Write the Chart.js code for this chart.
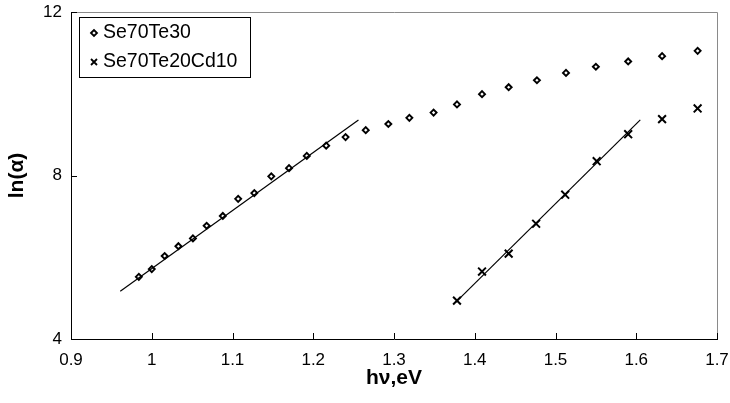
<!DOCTYPE html>
<html>
<head>
<meta charset="utf-8">
<script src="https://cdn.jsdelivr.net/npm/chart.js@4/dist/chart.umd.min.js"></script>
<style>
  html, body { margin: 0; padding: 0; background: #fff; }
  canvas { display: block; }
</style>
</head>
<body>
<canvas id="chart" width="730" height="403"></canvas>
<script>
// photon energy (eV) and ln(alpha) for each film
const hvSeTe = [0.984, 1.000, 1.016, 1.033, 1.051, 1.068, 1.088, 1.107, 1.127, 1.148, 1.170, 1.192, 1.216, 1.240,
                1.265, 1.293, 1.319, 1.349, 1.378, 1.409, 1.442, 1.477, 1.513, 1.550, 1.590, 1.632, 1.676];
const lnSeTe = [5.52, 5.71, 6.03, 6.27, 6.46, 6.77, 7.01, 7.43, 7.57, 7.98, 8.18, 8.48, 8.73, 8.94,
                9.11, 9.26, 9.41, 9.54, 9.74, 9.99, 10.16, 10.33, 10.51, 10.66, 10.79, 10.92, 11.05];
const hvSeTeCd = [1.378, 1.409, 1.442, 1.476, 1.512, 1.551, 1.590, 1.632, 1.676];
const lnSeTeCd = [4.94, 5.65, 6.09, 6.82, 7.53, 8.35, 9.01, 9.38, 9.64];

// straight-line fits (end points)
const fitSeTeHv = [0.961, 1.256];
const fitSeTeLn = [5.17, 9.36];
const fitSeTeCdHv = [1.376, 1.605];
const fitSeTeCdLn = [4.89, 9.36];

const xTicks = [0.9, 1.7, 0.1];   // min, max, step
const yTicks = [4, 12, 4];
const seriesNames = ['Se70Te30', 'Se70Te20Cd10'];

const FONT = "'Liberation Sans', Arial, Helvetica, sans-serif";
const pts = (xs, ys) => xs.map((x, i) => ({ x, y: ys[i] }));

// inward tick marks plus the grey top/right frame
const framePlugin = {
  id: 'frame',
  afterDraw(chart) {
    const { ctx, chartArea: a, scales: { x, y } } = chart;
    ctx.save();
    ctx.strokeStyle = '#8a8a8a';
    ctx.lineWidth = 1;
    ctx.beginPath();
    ctx.moveTo(a.left, a.top + 0.5);
    ctx.lineTo(a.right + 0.5, a.top + 0.5);
    ctx.lineTo(a.right + 0.5, a.bottom);
    ctx.stroke();
    ctx.strokeStyle = '#000';
    ctx.beginPath();
    x.ticks.forEach(t => {
      const px = Math.round(x.getPixelForValue(t.value)) + 0.5;
      ctx.moveTo(px, a.bottom);
      ctx.lineTo(px, a.bottom - 6);
    });
    y.ticks.forEach(t => {
      const py = Math.round(y.getPixelForValue(t.value)) + 0.5;
      ctx.moveTo(a.left, py);
      ctx.lineTo(a.left + 6, py);
    });
    ctx.stroke();
    ctx.restore();
  }
};

// boxed legend in the top-left corner of the plot
const legendPlugin = {
  id: 'boxLegend',
  afterDraw(chart) {
    const { ctx } = chart;
    ctx.save();
    ctx.strokeStyle = '#000';
    ctx.lineWidth = 1;
    ctx.strokeRect(79.5, 17.5, 171, 60);
    ctx.font = '19.5px ' + FONT;
    ctx.fillStyle = '#000';
    ctx.textBaseline = 'middle';
    ctx.lineWidth = 1.8;
    // diamond
    ctx.beginPath();
    ctx.moveTo(91, 33); ctx.lineTo(94, 30); ctx.lineTo(97, 33); ctx.lineTo(94, 36); ctx.closePath();
    ctx.stroke();
    ctx.fillText(seriesNames[0], 103, 33);
    // cross
    ctx.beginPath();
    ctx.moveTo(91, 59); ctx.lineTo(97, 65);
    ctx.moveTo(97, 59); ctx.lineTo(91, 65);
    ctx.stroke();
    ctx.fillText(seriesNames[1], 103, 62);
    ctx.restore();
  }
};

const fitLine = (xs, ys) => ({
  data: pts(xs, ys), showLine: true, borderColor: '#000', borderWidth: 1.2,
  pointRadius: 0, fill: false
});

new Chart(document.getElementById('chart'), {
  type: 'scatter',
  data: {
    datasets: [
      fitLine(fitSeTeHv, fitSeTeLn),
      fitLine(fitSeTeCdHv, fitSeTeCdLn),
      {
        label: seriesNames[0], data: pts(hvSeTe, lnSeTe),
        pointStyle: 'rectRot', pointRadius: 3, borderWidth: 1.9,
        borderColor: '#000', backgroundColor: '#fff'
      },
      {
        label: seriesNames[1], data: pts(hvSeTeCd, lnSeTeCd),
        pointStyle: 'crossRot', pointRadius: 5.5, borderWidth: 2,
        borderColor: '#000', backgroundColor: '#000'
      }
    ]
  },
  options: {
    responsive: false,
    animation: false,
    devicePixelRatio: 1,
    layout: { padding: { top: 12, right: 13, left: 0, bottom: 0 } },
    plugins: { legend: { display: false }, tooltip: { enabled: false } },
    scales: {
      x: {
        type: 'linear', min: xTicks[0], max: xTicks[1],
        afterFit(s) { s.height = 64; s.paddingLeft = 0; s.paddingRight = 0; },
        ticks: {
          stepSize: xTicks[2], color: '#000', padding: 11, maxRotation: 0,
          font: { family: FONT, size: 17 },
          callback: v => String(+v.toFixed(1))
        },
        grid: { drawOnChartArea: false, drawTicks: false },
        border: { display: true, color: '#000', width: 1 },
        title: {
          display: true, text: 'hν,eV', color: '#000',
          font: { family: FONT, size: 21, weight: 'bold' },
          padding: { top: 0, bottom: 12 }
        }
      },
      y: {
        min: yTicks[0], max: yTicks[1],
        afterFit(s) { s.width = 71; s.paddingTop = 0; s.paddingBottom = 0; },
        ticks: {
          stepSize: yTicks[2], color: '#000', padding: 9,
          font: { family: FONT, size: 17 }
        },
        grid: { drawOnChartArea: false, drawTicks: false },
        border: { display: true, color: '#000', width: 1 },
        title: {
          display: true, text: 'ln(α)', color: '#000',
          font: { family: FONT, size: 21, weight: 'bold' },
          padding: { top: 5, bottom: 0 }
        }
      }
    }
  },
  plugins: [framePlugin, legendPlugin]
});
</script>
</body>
</html>
